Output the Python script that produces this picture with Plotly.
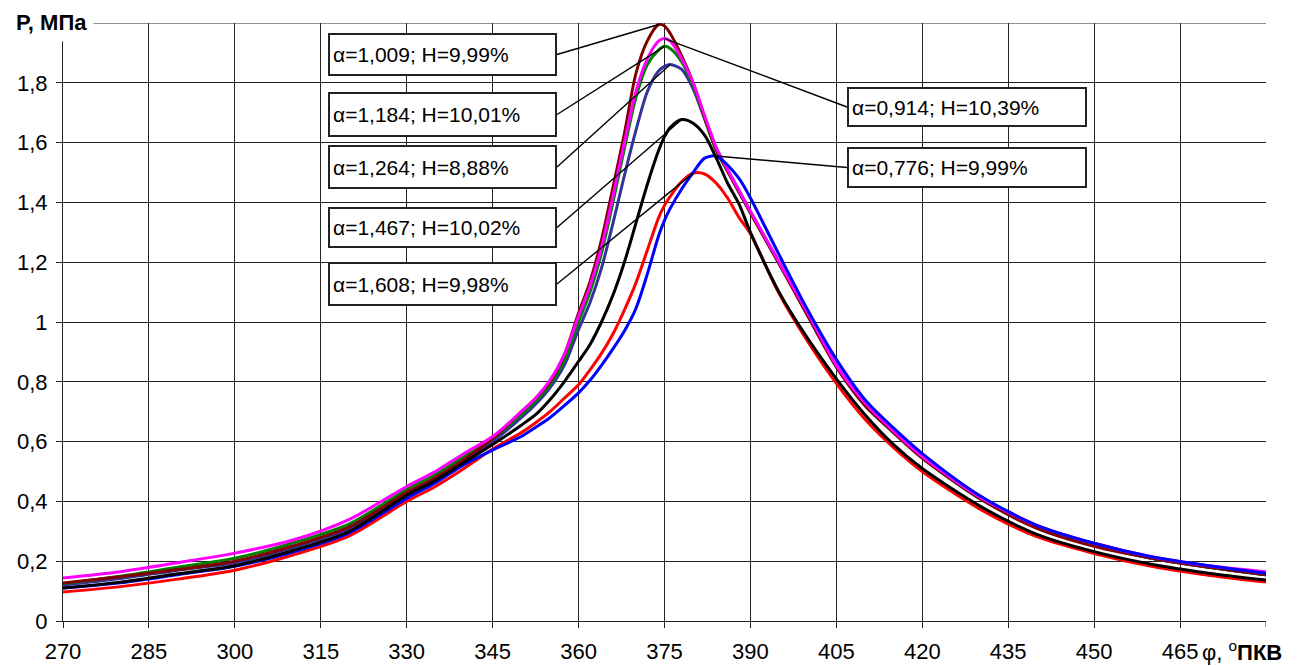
import plotly.graph_objects as go

# ---------------- data ----------------
phi = [270, 280, 290, 300, 310, 320, 330, 335, 340, 345, 350, 352.5, 355, 357.5,
       360, 362, 364, 366, 368, 370, 372, 374, 375, 376, 378, 380, 382, 384, 386,
       388, 390, 395, 400, 405, 410, 415, 420, 430, 440, 450, 460, 470, 480]

p_1009 = [.127, .148, .172, .200, .250, .315, .430, .480, .540, .610, .700, .745, .800, .890,
          1.030, 1.135, 1.275, 1.450, 1.630, 1.830, 1.940, 1.995, 1.990, 1.965, 1.890, 1.800,
          1.685, 1.580, 1.505, 1.435, 1.365, 1.195, 1.020, 0.850, 0.720, 0.630, 0.545, 0.410,
          0.310, 0.250, 0.210, 0.180, 0.155]
p_0914 = [.144, .165, .195, .227, .270, .340, .450, .500, .560, .617, .700, .745, .805, .890,
          1.020, 1.120, 1.250, 1.420, 1.600, 1.770, 1.880, 1.940, 1.948, 1.940, 1.880, 1.800,
          1.690, 1.585, 1.510, 1.440, 1.370, 1.200, 1.030, 0.855, 0.730, 0.635, 0.550, 0.415,
          0.320, 0.260, 0.215, 0.185, 0.165]
p_1184 = [.125, .150, .180, .210, .260, .325, .440, .490, .550, .610, .690, .735, .790, .870,
          1.000, 1.100, 1.230, 1.400, 1.580, 1.750, 1.860, 1.910, 1.922, 1.915, 1.870, 1.790,
          1.680, 1.575, 1.505, 1.435, 1.365, 1.195, 1.025, 0.850, 0.725, 0.630, 0.545, 0.410,
          0.315, 0.255, 0.210, 0.180, 0.155]
p_1264 = [.120, .142, .170, .195, .245, .310, .425, .475, .535, .600, .680, .725, .780, .855,
          0.975, 1.065, 1.180, 1.330, 1.490, 1.640, 1.770, 1.840, 1.855, 1.861, 1.845, 1.780,
          1.680, 1.580, 1.510, 1.440, 1.370, 1.200, 1.030, 0.855, 0.730, 0.635, 0.550, 0.415,
          0.315, 0.255, 0.210, 0.180, 0.155]
p_1467 = [.110, .130, .158, .185, .235, .300, .420, .470, .530, .590, .655, .690, .740, .800,
          0.868, 0.925, 1.000, 1.090, 1.200, 1.330, 1.460, 1.575, 1.620, 1.650, 1.677, 1.665,
          1.625, 1.550, 1.465, 1.395, 1.300, 1.100, 0.945, 0.810, 0.690, 0.590, 0.510, 0.385,
          0.290, 0.232, 0.190, 0.160, 0.137]
p_1608 = [.097, .115, .140, .170, .220, .285, .400, .450, .510, .575, .630, .663, .700, .745,
          0.790, 0.840, 0.895, 0.960, 1.040, 1.130, 1.240, 1.350, 1.390, 1.420, 1.470, 1.498,
          1.495, 1.465, 1.415, 1.350, 1.295, 1.095, 0.935, 0.795, 0.675, 0.580, 0.500, 0.375,
          0.282, 0.226, 0.183, 0.153, 0.130]
p_0776 = [.110, .128, .155, .183, .230, .295, .410, .462, .523, .572, .617, .648, .680, .720,
          0.763, 0.805, 0.855, 0.910, 0.970, 1.045, 1.160, 1.290, 1.340, 1.380, 1.445, 1.500,
          1.548, 1.555, 1.525, 1.480, 1.415, 1.225, 1.040, 0.875, 0.740, 0.645, 0.560, 0.420,
          0.320, 0.260, 0.215, 0.185, 0.160]

labels = {
    "1009": "α=1,009; H=9,99%",
    "1184": "α=1,184; H=10,01%",
    "1264": "α=1,264; H=8,88%",
    "1467": "α=1,467; H=10,02%",
    "1608": "α=1,608; H=9,98%",
    "0914": "α=0,914; H=10,39%",
    "0776": "α=0,776; H=9,99%",
}

x_ticks = [270, 285, 300, 315, 330, 345, 360, 375, 390, 405, 420, 435, 450, 465]
x_tick_text = ["270", "285", "300", "315", "330", "345", "360", "375", "390", "405",
               "420", "435", "450", "465"]
y_ticks = [0, 0.2, 0.4, 0.6, 0.8, 1.0, 1.2, 1.4, 1.6, 1.8]
y_tick_text = ["0", "0,2", "0,4", "0,6", "0,8", "1", "1,2", "1,4", "1,6", "1,8"]

# ---------------- layout constants ----------------
W, H = 1300, 666
L, R, T, B = 63, 34, 23, 45
PW, PH = W - L - R, H - T - B
X0, X1, Y0, Y1 = 270, 480, 0, 2
FONT = "Arial, Liberation Sans, sans-serif"
FS = 22
GRID = "#222222"


def px2paper(px, py):
    return (px - L) / PW, 1 - (py - T) / PH


def px2data(px, py):
    return X0 + (px - L) / PW * (X1 - X0), Y0 + (1 - (py - T) / PH) * (Y1 - Y0)


series = [
    ("1264", p_1264, "#333399"),
    ("1184", p_1184, "#008000"),
    ("1009", p_1009, "#800000"),
    ("0914", p_0914, "#FF00FF"),
    ("1608", p_1608, "#FF0000"),
    ("0776", p_0776, "#0000FF"),
    ("1467", p_1467, "#000000"),
]

fig = go.Figure()
for key, vals, col in series:
    fig.add_trace(go.Scatter(x=phi, y=vals, mode="lines", name=labels[key],
                             line=dict(color=col, width=3, shape="spline", smoothing=0.8),
                             hoverinfo="skip"))

# boxes: key -> (left, top, right, bottom) in pixels, side of leader
boxes = {
    "1009": (328, 33, 557, 76, "right"),
    "1184": (328, 92, 557, 137, "right"),
    "1264": (328, 145, 557, 189, "right"),
    "1467": (328, 207, 557, 248, "right"),
    "1608": (328, 262, 557, 306, "right"),
    "0914": (847, 87, 1087, 127, "left"),
    "0776": (847, 147, 1087, 188, "left"),
}
data_by_key = {k: v for k, v, _ in series}

for key, (bl, bt, br, bb, side) in boxes.items():
    vals = data_by_key[key]
    i = max(range(len(vals)), key=lambda j: vals[j])
    ex = br if side == "right" else bl
    sx, sy = px2data(ex, (bt + bb) / 2)
    fig.add_trace(go.Scatter(x=[sx, phi[i]], y=[sy, vals[i]], mode="lines",
                             line=dict(color="#000000", width=1.4), hoverinfo="skip",
                             showlegend=False))
    pad, bw = 3, 2
    ax, ay = px2paper(bl, bt)
    fig.add_annotation(xref="paper", yref="paper", x=ax, y=ay, xanchor="left", yanchor="top",
                       text=labels[key], showarrow=False, align="left", valign="middle",
                       width=(br - bl) - 2 * pad - 2 * bw, height=(bb - bt) - 2 * pad - 2 * bw,
                       bgcolor="white", bordercolor=GRID, borderwidth=bw, borderpad=pad,
                       font=dict(family=FONT, size=21, color="black"))

# top grid line (P = 2)
fig.add_shape(type="line", xref="paper", yref="y", x0=0, x1=1, y0=Y1, y1=Y1,
              line=dict(color=GRID, width=1), layer="below")

# axis titles
tx, ty = px2paper(9, 3)
fig.add_annotation(xref="paper", yref="paper", x=tx, y=ty, xanchor="left", yanchor="top",
                   text="<b>P, МПа</b>", showarrow=False, bgcolor="white", borderpad=6,
                   font=dict(family=FONT, size=FS, color="black"))
tx, ty = px2paper(1200, 651)
fig.add_annotation(xref="paper", yref="paper", x=tx, y=ty, xanchor="left", yanchor="middle",
                   text="φ, <sup>o</sup><b>ПКВ</b>", showarrow=False,
                   font=dict(family=FONT, size=FS, color="black"))

# tick mark at the end of x axis
fig.add_shape(type="line", xref="x", yref="paper", x0=X1, x1=X1, y0=0, y1=-6 / PH,
              line=dict(color=GRID, width=1))

fig.update_layout(
    width=W, height=H, margin=dict(l=L, r=R, t=T, b=B, autoexpand=False),
    paper_bgcolor="white", plot_bgcolor="white", showlegend=False,
    font=dict(family=FONT, size=FS, color="black"),
)
fig.update_xaxes(range=[X0, X1], tickvals=x_ticks, ticktext=x_tick_text,
                 showgrid=True, gridcolor=GRID, gridwidth=1,
                 showline=True, linecolor=GRID, linewidth=1,
                 ticks="outside", ticklen=6, tickcolor=GRID, zeroline=False,
                 ticklabelstandoff=5, automargin=False,
                 tickfont=dict(family=FONT, size=FS, color="black"))
fig.update_yaxes(range=[Y0, Y1], tickvals=y_ticks, ticktext=y_tick_text,
                 showgrid=True, gridcolor=GRID, gridwidth=1,
                 showline=True, linecolor=GRID, linewidth=1,
                 ticks="outside", ticklen=6, tickcolor=GRID, zeroline=False,
                 ticklabelstandoff=4, automargin=False,
                 tickfont=dict(family=FONT, size=FS, color="black"))

fig.write_html("out.html")
